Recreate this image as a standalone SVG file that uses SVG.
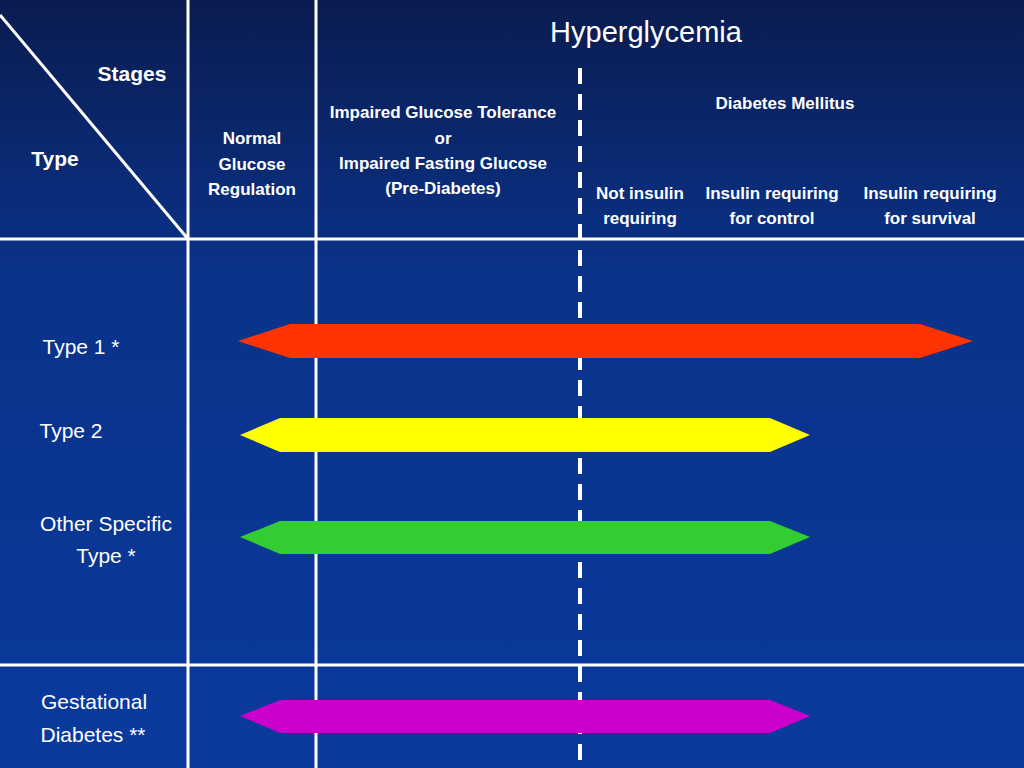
<svg xmlns="http://www.w3.org/2000/svg" width="1024" height="768" viewBox="0 0 1024 768">
<defs>
<linearGradient id="bg" x1="0" y1="0" x2="0" y2="1">
<stop offset="0" stop-color="#0a1c50"/><stop offset="0.35" stop-color="#0a3288"/><stop offset="1" stop-color="#0a3a9e"/>
</linearGradient>
<style>
.ln{stroke:#fff;stroke-width:3;fill:none}
.b{font-family:"Liberation Sans",Arial,sans-serif;font-weight:bold;font-size:17px;fill:#fff;text-anchor:middle}
.r{font-family:"Liberation Sans",Arial,sans-serif;font-size:21px;fill:#fff;text-anchor:middle}
</style>
</defs>
<rect width="1024" height="768" fill="url(#bg)"/>
<g id="grid">
<line class="ln" x1="188" y1="0" x2="188" y2="768"/>
<line class="ln" x1="316" y1="0" x2="316" y2="768"/>
<line class="ln" x1="0" y1="239" x2="1024" y2="239"/>
<line class="ln" x1="0" y1="665" x2="1024" y2="665"/>
<line class="ln" x1="0" y1="15" x2="188" y2="239"/>
<line class="ln" x1="580" y1="68" x2="580" y2="768" style="stroke-width:4;stroke-dasharray:16,10"/>
</g>
<g id="header">
<text class="r" x="646" y="42" style="font-size:29px">Hyperglycemia</text>
<text class="b" x="132" y="81" style="font-size:21px">Stages</text>
<text class="b" x="55" y="166" style="font-size:21px">Type</text>
<text class="b" x="252" y="144">Normal</text>
<text class="b" x="252" y="170">Glucose</text>
<text class="b" x="252" y="195">Regulation</text>
<text class="b" x="443" y="118">Impaired Glucose Tolerance</text>
<text class="b" x="443" y="144">or</text>
<text class="b" x="443" y="169">Impaired Fasting Glucose</text>
<text class="b" x="443" y="194">(Pre-Diabetes)</text>
<text class="b" x="785" y="109">Diabetes Mellitus</text>
<text class="b" x="640" y="199">Not insulin</text>
<text class="b" x="640" y="224">requiring</text>
<text class="b" x="772" y="199">Insulin requiring</text>
<text class="b" x="772" y="224">for control</text>
<text class="b" x="930" y="199">Insulin requiring</text>
<text class="b" x="930" y="224">for survival</text>
</g>
<g id="type1"><text class="r" x="81" y="354">Type 1 *</text>
<polygon points="238,341 290,324 920,324 973,341 920,358 290,358" fill="#ff3300"/></g>
<g id="type2"><text class="r" x="71" y="438">Type 2</text>
<polygon points="240,435 280,418 770,418 810,435 770,452 280,452" fill="#ffff00"/></g>
<g id="other"><text class="r" x="106" y="531">Other Specific</text><text class="r" x="106" y="563">Type *</text>
<polygon points="240,537 280,521 770,521 810,537 770,554 280,554" fill="#33cc33"/></g>
<g id="gest"><text class="r" x="94" y="709">Gestational</text><text class="r" x="93" y="742">Diabetes **</text>
<polygon points="240,716 280,700 770,700 810,716 770,733 280,733" fill="#cc00cc"/></g>
</svg>
